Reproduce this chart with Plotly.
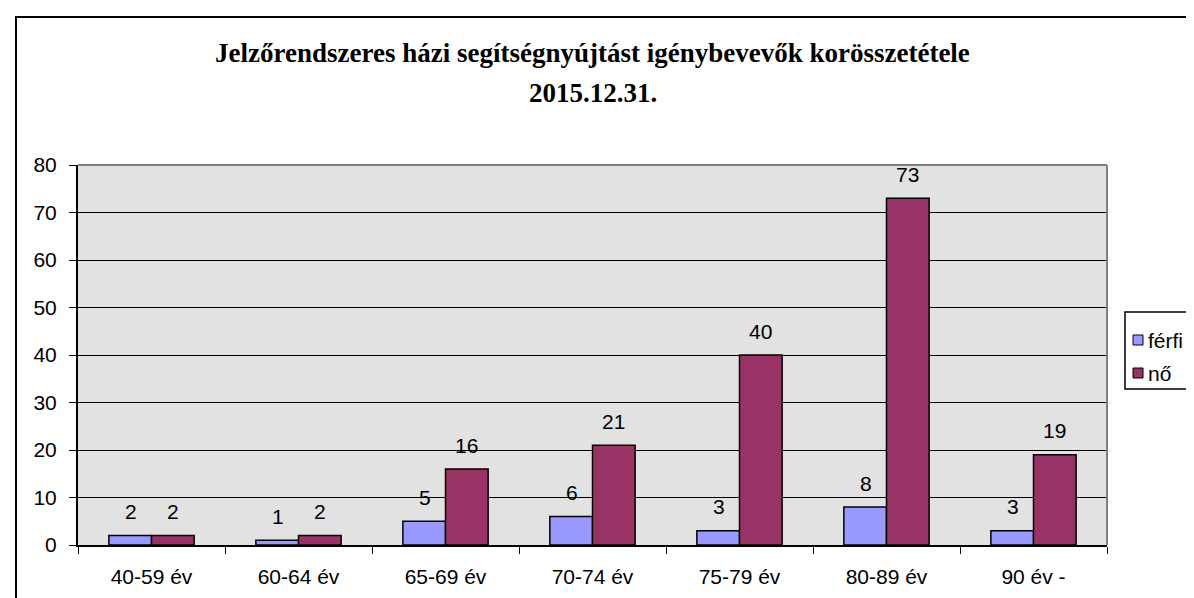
import plotly.graph_objects as go

# Age groups and counts
categories = ['40-59 év', '60-64 év', '65-69 év', '70-74 év', '75-79 év', '80-89 év', '90 év -']
ferfi = [2, 1, 5, 6, 3, 8, 3]
no = [2, 2, 16, 21, 40, 73, 19]
y_ticks = [0, 10, 20, 30, 40, 50, 60, 70, 80]

series = [('férfi', ferfi, '#9999FF'), ('nő', no, '#993366')]

# pixel geometry of the plot area
W, H = 1194, 598
L, R, T, B = 70, 1099, 157, 537

def px(x):
    return (x - L) / (R - L)

def py(y):
    return (B - y) / (B - T)

fig = go.Figure()
for name, vals, color in series:
    fig.add_trace(go.Bar(x=categories, y=vals, name=name, showlegend=False,
                         marker=dict(color=color, line=dict(color='black', width=1.5))))

# value labels above the bars
for i, cat in enumerate(categories):
    for (name, vals, color), shift in zip(series, (-21, 21)):
        fig.add_annotation(x=cat, y=vals[i], text=str(vals[i]), showarrow=False,
                           xshift=shift, yshift=24, yanchor='middle',
                           font=dict(family='Arial', size=21, color='black'))

# title
fig.add_annotation(x=0.5, xref='paper', y=py(45), yref='paper', xanchor='center', yanchor='middle',
                   text='<b>Jelzőrendszeres házi segítségnyújtást igénybevevők korösszetétele</b>',
                   showarrow=False, font=dict(family='Liberation Serif', size=27, color='black'))
fig.add_annotation(x=0.5, xref='paper', y=py(85), yref='paper', xanchor='center', yanchor='middle',
                   text='<b>2015.12.31.</b>',
                   showarrow=False, font=dict(family='Liberation Serif', size=27, color='black'))

# outer frame (extends past right and bottom edges)
fig.add_shape(type='rect', xref='paper', yref='paper',
              x0=px(8), y0=py(640), x1=px(1240), y1=py(9),
              line=dict(color='black', width=2), layer='above')
# gray border top/right of plot area
fig.add_shape(type='line', xref='paper', yref='paper', x0=0, y0=1, x1=1, y1=1,
              line=dict(color='#808080', width=2))
fig.add_shape(type='line', xref='paper', yref='paper', x0=1, y0=0, x1=1, y1=1,
              line=dict(color='#808080', width=2))

# legend box drawn by hand so it doesn't push the plot margins
fig.add_shape(type='rect', xref='paper', yref='paper',
              x0=px(1117), y0=py(381), x1=px(1191), y1=py(304),
              line=dict(color='black', width=1.5), fillcolor='white')
for k, (name, vals, color) in enumerate(series):
    cy = 332 + k * 33
    fig.add_shape(type='rect', xref='paper', yref='paper',
                  x0=px(1125), y0=py(cy + 5), x1=px(1135), y1=py(cy - 5),
                  line=dict(color='black', width=1), fillcolor=color)
    fig.add_annotation(x=px(1138), xref='paper', y=py(cy), yref='paper',
                       xanchor='left', yanchor='middle', text=name, showarrow=False,
                       font=dict(family='Arial', size=21, color='black'))

fig.update_layout(
    width=W, height=H,
    margin=dict(l=L, r=W - R, t=T, b=H - B, pad=0),
    paper_bgcolor='white',
    plot_bgcolor='#e2e2e2',
    barmode='group',
    bargap=0.42,
    bargroupgap=0,
    showlegend=False,
    font=dict(family='Arial', size=21, color='black'),
    xaxis=dict(showgrid=False, showline=True, linecolor='black', linewidth=2,
               ticks='outside', tickson='boundaries', ticklen=7, tickcolor='black',
               ticklabelstandoff=12,
               tickfont=dict(family='Arial', size=21), fixedrange=True),
    yaxis=dict(range=[0, 80], tickvals=y_ticks, showgrid=True, gridcolor='black', gridwidth=1,
               showline=True, linecolor='black', linewidth=2, zeroline=False,
               ticks='outside', ticklen=7, tickcolor='black',
               ticklabelstandoff=8,
               tickfont=dict(family='Arial', size=21), fixedrange=True),
)

fig.write_html('out.html')
